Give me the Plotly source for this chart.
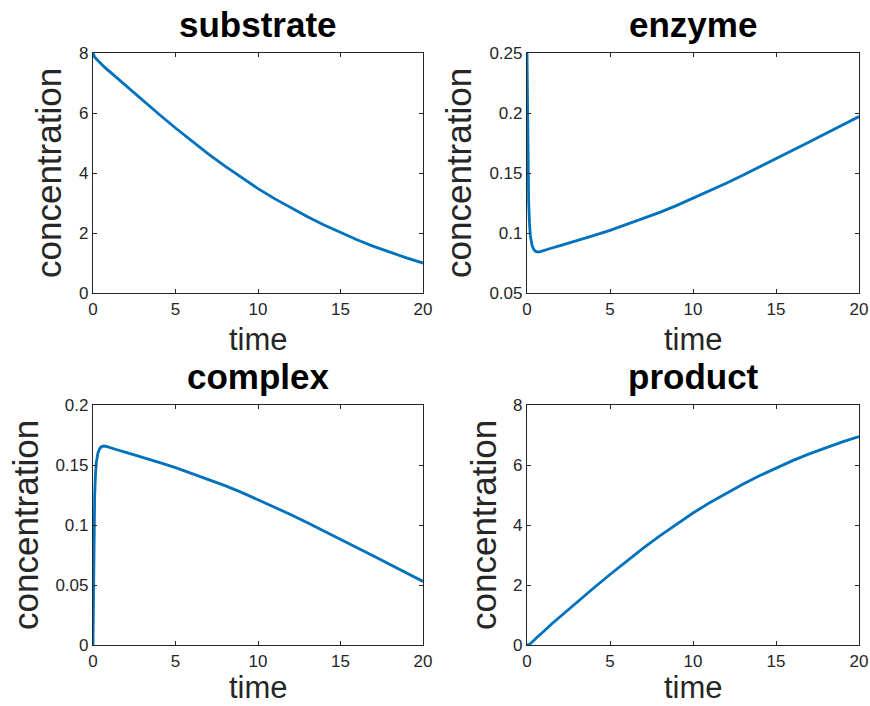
import plotly.graph_objects as go

# Time grid (dense near t=0 to capture the fast binding transient)
time = [0, 0.025, 0.05, 0.1, 0.15, 0.2, 0.3, 0.4, 0.5, 0.65, 0.8, 1, 1.5, 2, 2.5, 3,
        4, 5, 6, 7, 8, 9, 10, 11, 12, 13, 14, 15, 16, 17, 18, 19, 20]

substrate = [8.0, 7.949, 7.909, 7.866, 7.833, 7.803, 7.75, 7.70, 7.635, 7.554, 7.48, 7.385, 7.13, 6.89, 6.65, 6.41,
             5.96, 5.50, 5.06, 4.63, 4.23, 3.84, 3.48, 3.145, 2.83, 2.54, 2.265, 2.01, 1.774, 1.556, 1.358, 1.17, 0.997]

enzyme = [0.25, 0.2, 0.162, 0.126, 0.108, 0.098, 0.09, 0.0865, 0.0848, 0.0842, 0.0845, 0.0855, 0.0875, 0.0895, 0.0915, 0.0935,
          0.0978, 0.1022, 0.107, 0.1118, 0.1172, 0.1228, 0.1288, 0.135, 0.1414, 0.1481, 0.1549, 0.1618, 0.1689, 0.1758, 0.1829, 0.1899, 0.197]

complex_ = [0.0, 0.05, 0.088, 0.124, 0.142, 0.152, 0.160, 0.1635, 0.1652, 0.1658, 0.1655, 0.1645, 0.1625, 0.1605, 0.1585, 0.1565,
            0.1522, 0.1478, 0.143, 0.1382, 0.1328, 0.1272, 0.1212, 0.115, 0.1086, 0.1019, 0.0951, 0.0882, 0.0811, 0.0742, 0.0671, 0.0601, 0.053]

product = [0.0, 0.001, 0.003, 0.01, 0.025, 0.045, 0.09, 0.14, 0.2, 0.28, 0.35, 0.45, 0.71, 0.95, 1.19, 1.43,
           1.89, 2.35, 2.80, 3.23, 3.64, 4.03, 4.40, 4.74, 5.06, 5.36, 5.64, 5.90, 6.145, 6.37, 6.575, 6.77, 6.95]

x_ticks = [0, 5, 10, 15, 20]
x_ticktext = ["0", "5", "10", "15", "20"]
y_ticks_conc = [0, 2, 4, 6, 8]
y_ticktext_conc = ["0", "2", "4", "6", "8"]
y_ticks_enz = [0.05, 0.1, 0.15, 0.2, 0.25]
y_ticktext_enz = ["0.05", "0.1", "0.15", "0.2", "0.25"]
y_ticks_cpx = [0, 0.05, 0.1, 0.15, 0.2]
y_ticktext_cpx = ["0", "0.05", "0.1", "0.15", "0.2"]

titles = ["substrate", "enzyme", "complex", "product"]
series = [substrate, enzyme, complex_, product]
y_ranges = [[0, 8], [0.05, 0.25], [0, 0.2], [0, 8]]
y_tickvals = [y_ticks_conc, y_ticks_enz, y_ticks_cpx, y_ticks_conc]
y_ticktexts = [y_ticktext_conc, y_ticktext_enz, y_ticktext_cpx, y_ticktext_conc]

W, H = 870, 706
FONT = "Liberation Sans, Arial, Helvetica, sans-serif"
LINE_BLUE = "#0072BD"
AXIS_GRAY = "#262626"

# panel boxes in pixels: (left, right, top, bottom)
boxes = [(93, 423, 53, 293), (527, 859, 53, 293), (93, 423, 405, 645), (527, 859, 405, 645)]
# horizontal offset of the y-label centre from the panel's left edge
ylabel_offsets = [44, 68, 68, 44]

fig = go.Figure()
layout = dict(
    width=W, height=H,
    margin=dict(l=0, r=0, t=0, b=0, autoexpand=False),
    paper_bgcolor="white", plot_bgcolor="white",
    showlegend=False,
    font=dict(family=FONT, color=AXIS_GRAY),
    annotations=[],
)

for i, (name, vals) in enumerate(zip(titles, series)):
    left, right, top, bottom = boxes[i]
    xa = "xaxis" if i == 0 else f"xaxis{i+1}"
    ya = "yaxis" if i == 0 else f"yaxis{i+1}"
    xr = "x" if i == 0 else f"x{i+1}"
    yr = "y" if i == 0 else f"y{i+1}"
    fig.add_trace(go.Scatter(x=time, y=vals, mode="lines", xaxis=xr, yaxis=yr,
                             line=dict(color=LINE_BLUE, width=2.8), name=name))
    common = dict(showline=True, linecolor=AXIS_GRAY, linewidth=1.2, mirror="ticks",
                  ticks="inside", ticklen=4, tickwidth=1, tickcolor=AXIS_GRAY,
                  showgrid=False, zeroline=False, automargin=False,
                  tickfont=dict(family=FONT, size=17, color=AXIS_GRAY))
    layout[xa] = dict(domain=[left / W, right / W], range=[0, 20], anchor=yr,
                      tickvals=x_ticks, ticktext=x_ticktext, **common)
    layout[ya] = dict(domain=[1 - bottom / H, 1 - top / H], range=y_ranges[i], anchor=xr,
                      tickvals=y_tickvals[i], ticktext=y_ticktexts[i], **common)
    cx = (left + right) / 2 / W
    # panel title
    layout["annotations"].append(dict(
        text=f"<b>{name}</b>", xref="paper", yref="paper", x=cx, y=1 - (top - 29) / H,
        xanchor="center", yanchor="middle", showarrow=False,
        font=dict(family=FONT, size=35, color="black")))
    # x label (bottom row sits flush with the lower page edge)
    if bottom + 45 + 19 > H:
        xl_y, xl_anchor = 0, "bottom"
    else:
        xl_y, xl_anchor = 1 - (bottom + 46) / H, "middle"
    layout["annotations"].append(dict(
        text="time", xref="paper", yref="paper", x=cx, y=xl_y,
        xanchor="center", yanchor=xl_anchor, showarrow=False, borderpad=0,
        font=dict(family=FONT, size=31, color=AXIS_GRAY)))
    # y label
    layout["annotations"].append(dict(
        text="concentration", xref="paper", yref="paper",
        x=(left - ylabel_offsets[i]) / W, y=1 - (top + bottom) / 2 / H,
        xanchor="center", yanchor="middle", textangle=-90, showarrow=False,
        font=dict(family=FONT, size=35, color=AXIS_GRAY)))

fig.update_layout(**layout)
fig.write_html("out.html")
